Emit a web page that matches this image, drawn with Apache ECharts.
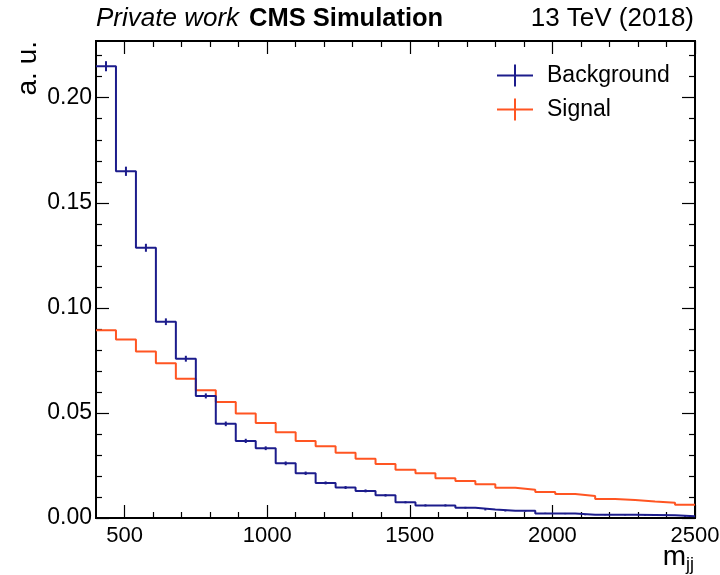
<!DOCTYPE html>
<html>
<head>
<meta charset="utf-8">
<script src="https://cdn.jsdelivr.net/npm/echarts@6/dist/echarts.min.js"></script>
<style>
  html, body { margin: 0; padding: 0; background: #fff; }
  #chart { width: 720px; height: 575px; }
</style>
</head>
<body>
<div id="chart"></div>
<script>
// bin edges of m_jj (GeV)
const binEdges = [400, 470, 540, 610, 680, 750, 820, 890, 960, 1030, 1100,
  1170, 1240, 1310, 1380, 1450, 1520, 1590, 1660, 1730, 1800,
  1870, 1940, 2010, 2080, 2150, 2220, 2290, 2360, 2430, 2500];

// normalised histograms (a.u.)
const background = [0.2150, 0.1650, 0.1286, 0.0934, 0.0758, 0.0581, 0.0448, 0.0367, 0.0332, 0.0260,
  0.0213, 0.0167, 0.0145, 0.0129, 0.0108, 0.0075, 0.0060, 0.0060, 0.0049, 0.0040,
  0.0035, 0.0034, 0.0022, 0.0021, 0.0016, 0.0016, 0.0015, 0.0014, 0.0013, 0.0008];
const backgroundErr = [0.0024, 0.0022, 0.0019, 0.0016, 0.0014, 0.0012, 0.0011, 0.0010, 0.0009, 0.0009,
  0.0008, 0.0007, 0.0007, 0.0007, 0.0006, 0.0005, 0.0005, 0.0005, 0.0004, 0.0004,
  0.0004, 0.0004, 0.0003, 0.0003, 0.0003, 0.0003, 0.0003, 0.0003, 0.0003, 0.0002];
const signal = [0.0894, 0.0849, 0.0792, 0.0737, 0.0663, 0.0608, 0.0552, 0.0497, 0.0452, 0.0408,
  0.0367, 0.0341, 0.0311, 0.0282, 0.0257, 0.0230, 0.0213, 0.0189, 0.0176, 0.0161,
  0.0144, 0.0135, 0.0124, 0.0114, 0.0105, 0.0090, 0.0086, 0.0078, 0.0073, 0.0063];

// ticks
const xMajorTicks = [500, 1000, 1500, 2000, 2500];
const xMinorTicks = [600, 700, 800, 900, 1100, 1200, 1300, 1400, 1600, 1700, 1800, 1900,
  2100, 2200, 2300, 2400];
const yMajorTicks = [0, 0.05, 0.10, 0.15, 0.20];
const yMinorTicks = [0.01, 0.02, 0.03, 0.04, 0.06, 0.07, 0.08, 0.09, 0.11, 0.12, 0.13, 0.14,
  0.16, 0.17, 0.18, 0.19, 0.21, 0.22];

const X_MIN = 400, X_MAX = 2500, Y_MIN = 0, Y_MAX = 0.227;
const FONT = '"Liberation Sans", Arial, sans-serif';
const BLUE = '#1c1c8c';
const ORANGE = '#ff5522';

const chart = echarts.init(document.getElementById('chart'), null, { renderer: 'canvas' });

function stepData(vals) {
  return binEdges.map((e, i) => [e, vals[Math.min(i, vals.length - 1)]]);
}
const errData = background.map((v, i) => [(binEdges[i] + binEdges[i + 1]) / 2, v, backgroundErr[i]]);

function xAxisDef(position, ticks, len, labels) {
  return {
    type: 'value', position: position, min: X_MIN, max: X_MAX,
    splitLine: { show: false },
    axisLine: { show: true, onZero: false, lineStyle: { color: '#000', width: 2 } },
    axisTick: { show: true, inside: true, length: len, customValues: ticks, lineStyle: { color: '#000', width: 1.2 } },
    axisLabel: labels ? {
      show: true, customValues: ticks, margin: 7, color: '#000', fontSize: 22, fontFamily: FONT,
      formatter: v => String(v)
    } : { show: false }
  };
}
function yAxisDef(position, ticks, len, labels) {
  return {
    type: 'value', position: position, min: Y_MIN, max: Y_MAX,
    splitLine: { show: false },
    axisLine: { show: true, onZero: false, lineStyle: { color: '#000', width: 2 } },
    axisTick: { show: true, inside: true, length: len, customValues: ticks, lineStyle: { color: '#000', width: 1.2 } },
    axisLabel: labels ? {
      show: true, customValues: ticks, margin: 4, color: '#000', fontSize: 23, fontFamily: FONT,
      formatter: v => v.toFixed(2)
    } : { show: false }
  };
}

const crossIcon = 'path://M0,10 H36 V12 H0 Z M17,0 H19 V22 H17 Z';

const option = {
  animation: false,
  backgroundColor: '#fff',
  grid: { left: 96, right: 25, top: 41, bottom: 57, containLabel: false, outerBoundsMode: 'none' },
  xAxis: [
    xAxisDef('bottom', xMajorTicks, 13, true),
    xAxisDef('bottom', xMinorTicks, 6, false),
    xAxisDef('top', xMajorTicks, 13, false),
    xAxisDef('top', xMinorTicks, 6, false)
  ],
  yAxis: [
    yAxisDef('left', yMajorTicks, 13, true),
    yAxisDef('left', yMinorTicks, 6, false),
    yAxisDef('right', yMajorTicks, 13, false),
    yAxisDef('right', yMinorTicks, 6, false)
  ],
  legend: {
    orient: 'vertical',
    left: 492, top: 59,
    itemWidth: 36, itemHeight: 22, itemGap: 11,
    textStyle: { fontSize: 23, fontFamily: FONT, color: '#000', padding: [0, 0, 0, 9] },
    data: [
      { name: 'Background', icon: crossIcon, itemStyle: { color: BLUE } },
      { name: 'Signal', icon: crossIcon, itemStyle: { color: ORANGE } }
    ]
  },
  graphic: [
    {
      type: 'text', left: 96, top: 6,
      style: {
        text: '{i|Private work}{g| }{b|CMS Simulation}',
        rich: {
          i: { fontSize: 26, fontStyle: 'italic', fontFamily: FONT, fill: '#000' },
          g: { fontSize: 26, fontFamily: FONT, width: 10 },
          b: { fontSize: 25.5, fontWeight: 'bold', fontFamily: FONT, fill: '#000' }
        }
      }
    },
    {
      type: 'text', right: 26, top: 6,
      style: { text: '13 TeV (2018)', fontSize: 26, fontFamily: FONT, fill: '#000' }
    },
    {
      type: 'text', x: 28, y: 41, rotation: Math.PI / 2,
      style: { text: 'a. u.', fontSize: 28, fontFamily: FONT, fill: '#000', align: 'right', verticalAlign: 'middle' }
    },
    {
      type: 'text', right: 26, top: 543,
      style: {
        text: '{m|m}{s|jj}',
        rich: {
          m: { fontSize: 28, fontFamily: FONT, fill: '#000' },
          s: { fontSize: 18, fontFamily: FONT, fill: '#000', verticalAlign: 'bottom', padding: [16, 0, 0, 0] }
        }
      }
    }
  ],
  series: [
    {
      name: 'Background', type: 'line', step: 'end',
      xAxisIndex: 0, yAxisIndex: 0,
      showSymbol: false, symbol: 'none',
      lineStyle: { color: BLUE, width: 2 },
      itemStyle: { color: BLUE },
      data: stepData(background),
      z: 3
    },
    {
      name: 'Background err', type: 'custom',
      xAxisIndex: 0, yAxisIndex: 0,
      renderItem: function (params, api) {
        const x = api.value(0), y = api.value(1), e = api.value(2);
        const p1 = api.coord([x, y - e]);
        const p2 = api.coord([x, y + e]);
        return {
          type: 'line',
          shape: { x1: p1[0], y1: p1[1], x2: p2[0], y2: p2[1] },
          style: { stroke: BLUE, lineWidth: 2 }
        };
      },
      data: errData,
      z: 4
    },
    {
      name: 'Signal', type: 'line', step: 'end',
      xAxisIndex: 0, yAxisIndex: 0,
      showSymbol: false, symbol: 'none',
      lineStyle: { color: ORANGE, width: 2 },
      itemStyle: { color: ORANGE },
      data: stepData(signal),
      z: 2
    }
  ]
};

chart.setOption(option);
</script>
</body>
</html>
